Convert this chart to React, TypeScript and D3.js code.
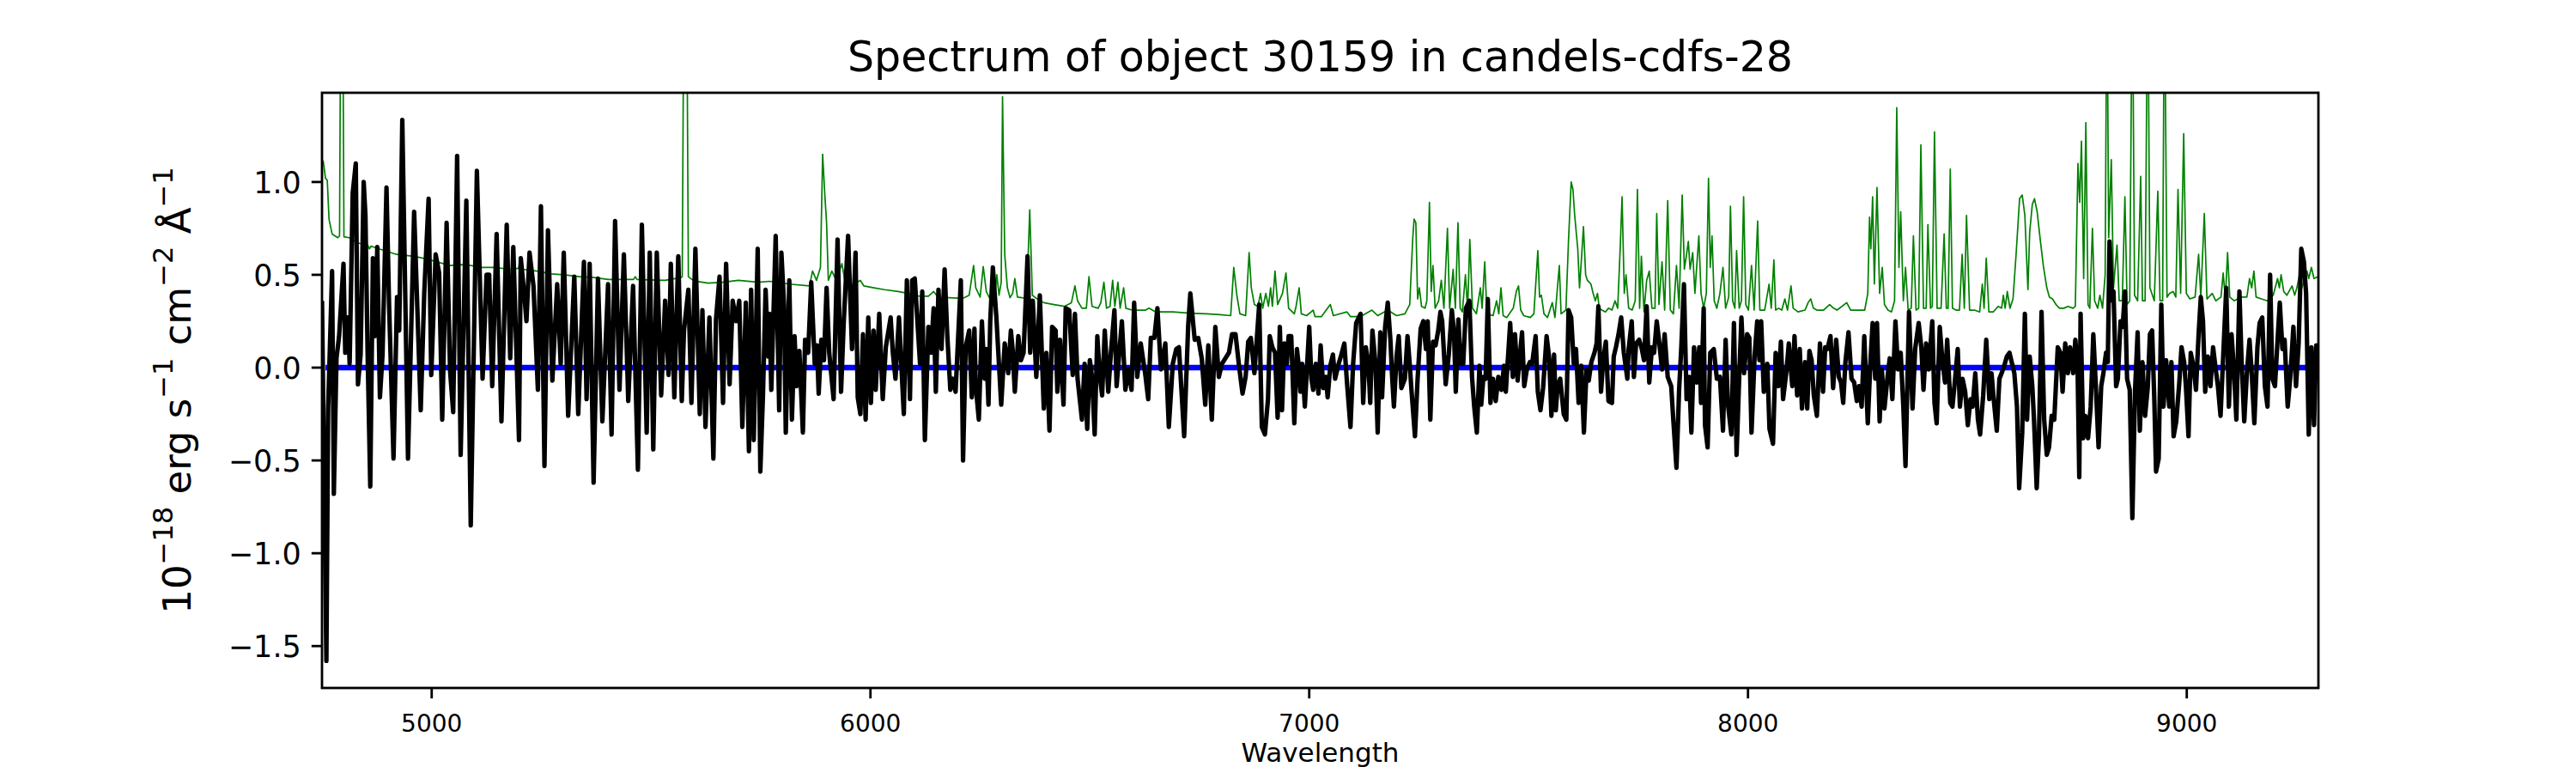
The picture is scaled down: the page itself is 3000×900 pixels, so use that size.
import * as d3 from "d3";

type Pt = [number, number];

// axis ticks
const xTicks = [5000, 6000, 7000, 8000, 9000];
const yTicks = [-1.5, -1.0, -0.5, 0.0, 0.5, 1.0];

// extracted object flux [wavelength, 1e-18 erg/s/cm2/A]
const objectFlux: Pt[] = [
  [4750,0.36],[4760,-1.58],[4764,-0.22],[4773,0.52],[4777,-0.68],[4783,0.05],[4789,0.17],[4799,0.56],[4803,0.08],[4809,0.27],
  [4813,0.02],[4820,0.94],[4827,1.10],[4832,-0.09],[4838,0.07],[4845,1.0],[4849,0.82],[4854,0.07],[4860,-0.64],[4866,0.59],
  [4871,0.17],[4876,0.65],[4882,-0.16],[4888,0.07],[4897,0.97],[4903,0.33],[4913,-0.49],[4921,0.38],[4926,0.2],[4933,1.335],
  [4946,-0.49],[4960,0.84],[4975,-0.23],[4983,0.4],[4993,0.91],[4999,-0.04],[5009,0.61],[5017,0.51],[5024,-0.28],[5034,0.78],
  [5042,-0.02],[5049,-0.24],[5058,1.14],[5066,-0.47],[5079,0.9],[5089,-0.85],[5103,1.06],[5116,-0.06],[5125,0.5],[5131,0.5],
  [5138,-0.1],[5148,0.72],[5159,-0.29],[5171,0.77],[5179,0.05],[5186,0.65],[5199,-0.39],[5203,0.59],[5210,0.42],[5216,0.25],
  [5223,0.62],[5232,0.44],[5242,-0.12],[5249,0.87],[5257,-0.53],[5265,0.74],[5275,-0.07],[5286,0.45],[5294,0.02],[5301,0.62],
  [5311,-0.26],[5325,0.49],[5334,-0.25],[5347,0.57],[5353,-0.17],[5360,0.56],[5369,-0.62],[5379,0.48],[5389,-0.29],[5402,0.45],
  [5410,-0.36],[5418,0.79],[5428,-0.12],[5438,0.61],[5448,-0.18],[5459,0.44],[5470,-0.55],[5479,0.77],[5490,-0.35],[5497,0.62],
  [5505,-0.44],[5513,0.62],[5523,-0.15],[5532,0.36],[5540,-0.04],[5545,0.56],[5553,-0.16],[5562,0.6],[5570,-0.18],[5575,0.2],
  [5585,0.42],[5592,-0.19],[5601,0.64],[5611,-0.25],[5617,0.31],[5624,-0.32],[5633,0.27],[5642,-0.49],[5648,0.26],[5656,0.49],
  [5664,-0.19],[5671,0.56],[5679,-0.09],[5686,0.36],[5694,0.25],[5701,0.36],[5708,-0.32],[5716,0.35],[5723,-0.45],[5728,0.42],
  [5734,-0.39],[5743,0.64],[5749,-0.56],[5755,-0.15],[5761,0.42],[5767,0.06],[5770,0.29],[5774,-0.12],[5784,0.71],[5792,-0.23],
  [5797,0.62],[5803,0.34],[5807,-0.35],[5815,0.47],[5821,-0.28],[5827,0.17],[5832,-0.1],[5838,0.09],[5846,-0.35],[5851,0.15],
  [5858,0.08],[5865,0.46],[5873,0.02],[5878,0.12],[5882,-0.14],[5888,0.15],[5894,0.04],[5900,0.43],[5906,0.08],[5916,-0.17],
  [5925,0.69],[5933,-0.13],[5939,0.24],[5949,0.71],[5958,0.1],[5966,0.62],[5971,-0.16],[5977,-0.25],[5983,0.18],[5989,-0.28],
  [5995,0.27],[6001,-0.19],[6007,0.2],[6012,-0.12],[6020,0.29],[6028,-0.17],[6035,0.11],[6046,0.27],[6051,0.08],[6057,-0.06],
  [6065,0.27],[6076,-0.25],[6083,0.47],[6090,-0.17],[6095,0.47],[6101,0.48],[6107,0.25],[6113,0.02],[6118,0.41],[6124,-0.39],
  [6132,0.22],[6138,0.08],[6144,0.32],[6149,-0.13],[6155,0.42],[6162,0.1],[6169,0.53],[6175,0.18],[6182,-0.12],[6188,-0.06],
  [6194,-0.13],[6206,0.47],[6211,-0.5],[6217,0.11],[6225,0.2],[6231,-0.16],[6237,0.21],[6240,-0.1],[6247,-0.28],[6254,0.25],
  [6260,-0.06],[6264,0.1],[6269,-0.2],[6273,0.25],[6279,0.54],[6287,0.27],[6298,-0.2],[6306,0.13],[6314,-0.03],[6320,0.2],
  [6324,0.1],[6329,-0.13],[6337,0.17],[6343,0.04],[6349,0.08],[6358,0.6],[6364,0.08],[6370,0.36],[6378,-0.05],[6386,0.39],
  [6395,-0.22],[6401,0.08],[6408,-0.34],[6414,0.22],[6422,0.2],[6426,-0.13],[6432,0.15],[6440,-0.2],[6445,0.32],[6453,0.31],
  [6461,-0.04],[6466,0.29],[6472,-0.06],[6482,-0.28],[6488,0.02],[6494,-0.33],[6500,0.04],[6505,-0.05],[6511,-0.36],[6517,0.17],
  [6523,-0.05],[6528,-0.15],[6534,0.2],[6542,-0.13],[6548,0.08],[6556,0.31],[6561,-0.1],[6573,0.25],[6581,-0.12],[6588,-0.01],
  [6595,-0.12],[6601,0.35],[6608,-0.05],[6616,0.13],[6626,-0.03],[6633,-0.17],[6639,0.16],[6647,0.16],[6654,0.32],[6662,-0.01],
  [6672,0.13],[6680,-0.32],[6689,0.02],[6697,0.1],[6703,0.11],[6715,-0.37],[6724,0.22],[6729,0.4],[6739,0.15],[6747,0.16],
  [6755,0.05],[6763,-0.2],[6770,0.12],[6778,-0.28],[6786,0.22],[6794,-0.05],[6801,0.02],[6809,0.05],[6817,0.08],[6824,0.18],
  [6832,0.18],[6840,0.01],[6848,-0.14],[6855,-0.05],[6861,0.14],[6867,0.16],[6875,-0.03],[6881,0.17],[6886,0.34],[6892,-0.32],
  [6899,-0.36],[6906,-0.17],[6910,0.17],[6916,0.11],[6922,0.08],[6928,-0.27],[6933,0.22],[6938,-0.23],[6943,0.13],[6949,0.02],
  [6953,0.17],[6959,0.17],[6966,-0.30],[6972,0.10],[6977,-0.01],[6980,-0.13],[6984,0.02],[6990,-0.21],[7000,0.22],[7005,-0.06],
  [7009,-0.12],[7015,0.02],[7021,-0.14],[7026,0.12],[7032,-0.11],[7038,-0.05],[7042,-0.16],[7048,0.01],[7054,0.07],[7059,-0.06],
  [7067,0.02],[7072,0.06],[7080,0.13],[7086,-0.08],[7094,-0.32],[7100,0.02],[7107,0.24],[7113,0.27],[7117,0.29],[7123,-0.19],
  [7129,0.11],[7135,0.02],[7139,-0.19],[7144,0.20],[7151,0.02],[7156,-0.35],[7162,0.19],[7166,-0.16],[7173,0.22],[7179,0.35],
  [7185,0.15],[7189,-0.05],[7193,-0.21],[7199,0.06],[7204,0.17],[7210,-0.11],[7218,-0.06],[7224,0.17],[7229,0.02],[7233,-0.12],
  [7241,-0.37],[7247,-0.06],[7254,0.21],[7260,0.25],[7266,0.10],[7270,0.25],[7276,-0.28],[7282,0.14],[7288,0.12],[7294,0.20],
  [7299,0.30],[7303,0.25],[7311,-0.09],[7318,0.07],[7325,0.31],[7330,0.19],[7334,-0.13],[7340,0.26],[7345,0.02],[7351,0.02],
  [7357,0.32],[7365,0.36],[7371,-0.05],[7376,-0.21],[7382,-0.35],[7388,0.01],[7392,-0.20],[7397,-0.05],[7402,-0.06],[7407,0.37],
  [7413,-0.19],[7419,-0.06],[7425,-0.18],[7431,-0.05],[7438,-0.12],[7444,0.01],[7448,-0.13],[7458,0.24],[7464,-0.05],[7469,0.18],
  [7475,-0.07],[7479,0.04],[7485,0.19],[7490,-0.10],[7496,-0.01],[7503,0.03],[7508,0.02],[7516,0.17],[7521,-0.13],[7527,-0.23],
  [7533,-0.11],[7541,0.17],[7547,0.05],[7552,-0.26],[7558,0.07],[7562,-0.23],[7566,-0.10],[7572,-0.06],[7580,-0.25],[7586,-0.28],
  [7591,0.31],[7597,0.27],[7603,0.02],[7608,0.10],[7614,-0.19],[7620,0.01],[7626,-0.35],[7632,-0.01],[7637,-0.07],[7643,0.03],
  [7650,0.08],[7655,0.13],[7659,0.33],[7665,-0.13],[7670,0.04],[7676,0.14],[7682,-0.18],[7690,-0.19],[7694,0.06],[7699,0.11],
  [7705,0.18],[7711,0.27],[7717,0.08],[7725,-0.06],[7728,0.10],[7735,0.25],[7740,-0.05],[7745,0.13],[7752,0.15],[7758,0.10],
  [7763,0.04],[7769,0.33],[7775,-0.08],[7781,0.11],[7786,0.08],[7792,0.25],[7798,0.13],[7804,-0.01],[7810,0.18],[7817,-0.05],
  [7825,-0.10],[7830,-0.29],[7837,-0.54],[7843,-0.12],[7848,0.11],[7854,0.45],[7860,-0.17],[7866,-0.05],[7871,-0.35],[7877,0.11],
  [7883,-0.08],[7889,0.11],[7893,-0.19],[7899,0.32],[7902,-0.31],[7908,-0.43],[7914,0.08],[7922,0.10],[7929,-0.06],[7936,-0.05],
  [7943,-0.34],[7949,0.15],[7954,-0.19],[7962,-0.36],[7968,0.24],[7974,-0.47],[7980,-0.05],[7985,0.27],[7991,-0.03],[7998,0.18],
  [8003,0.16],[8008,-0.35],[8015,0.06],[8021,0.25],[8026,0.04],[8030,0.25],[8036,-0.13],[8044,0.02],[8049,-0.33],[8057,-0.41],
  [8063,0.08],[8069,-0.10],[8075,0.14],[8080,-0.17],[8088,-0.01],[8093,0.13],[8101,-0.10],[8106,0.17],[8112,-0.15],[8118,0.10],
  [8123,-0.22],[8130,0.03],[8135,-0.22],[8140,0.09],[8145,0.04],[8150,-0.15],[8157,-0.26],[8164,0.13],[8171,-0.13],[8176,0.11],
  [8181,0.10],[8188,0.17],[8194,-0.11],[8201,0.15],[8207,-0.05],[8212,-0.08],[8217,-0.19],[8222,0.03],[8229,0.19],[8236,-0.06],
  [8242,-0.08],[8248,-0.18],[8253,-0.10],[8259,-0.21],[8265,0.17],[8273,-0.30],[8279,0.03],[8284,0.24],[8290,-0.06],[8294,0.24],
  [8300,-0.29],[8305,-0.01],[8311,-0.22],[8318,-0.05],[8323,0.05],[8329,-0.17],[8336,0.25],[8342,-0.01],[8348,0.08],[8354,-0.21],
  [8359,-0.53],[8367,0.30],[8375,-0.22],[8381,0.10],[8389,0.24],[8395,0.11],[8400,-0.12],[8406,0.13],[8412,-0.01],[8420,0.25],
  [8425,-0.19],[8430,-0.30],[8437,0.22],[8443,0.04],[8449,-0.08],[8454,0.15],[8461,-0.19],[8466,-0.21],[8472,-0.06],[8478,0.10],
  [8483,-0.21],[8489,-0.06],[8495,-0.13],[8501,-0.31],[8507,-0.17],[8512,-0.21],[8518,-0.03],[8524,-0.28],[8529,-0.36],[8536,-0.15],
  [8543,0.15],[8550,-0.17],[8555,-0.03],[8560,-0.17],[8567,-0.34],[8573,-0.06],[8578,-0.03],[8584,0.01],[8590,0.06],[8596,0.08],
  [8601,0.03],[8607,-0.03],[8613,-0.21],[8618,-0.65],[8625,-0.35],[8631,0.29],[8636,-0.28],[8642,0.06],[8648,-0.10],[8652,-0.29],
  [8658,-0.65],[8663,-0.38],[8669,0.30],[8675,-0.28],[8681,-0.47],[8686,-0.43],[8692,-0.26],[8698,-0.28],[8706,0.11],[8712,0.08],
  [8717,-0.13],[8723,0.13],[8729,-0.03],[8734,0.11],[8741,-0.03],[8746,0.15],[8751,0.02],[8755,-0.59],[8758,0.29],[8764,-0.38],
  [8769,-0.26],[8775,-0.38],[8781,-0.21],[8787,0.18],[8792,-0.06],[8799,-0.43],[8805,-0.10],[8810,-0.03],[8816,0.08],[8820,0.03],
  [8824,0.68],[8830,0.36],[8833,0.41],[8839,-0.10],[8843,-0.06],[8849,0.25],[8854,0.22],[8859,0.41],[8864,-0.06],[8870,-0.12],
  [8876,-0.81],[8882,-0.13],[8888,0.19],[8893,-0.34],[8899,0.03],[8905,-0.26],[8911,-0.11],[8916,0.18],[8921,0.20],[8926,-0.17],
  [8930,-0.56],[8936,-0.49],[8942,0.34],[8947,-0.21],[8953,0.04],[8960,-0.21],[8965,0.03],[8970,-0.37],[8976,-0.29],[8983,-0.08],
  [8988,0.11],[8994,0.03],[8998,-0.10],[9004,-0.37],[9009,0.08],[9015,0.01],[9021,-0.12],[9027,0.18],[9032,0.38],[9037,0.25],
  [9042,-0.13],[9048,0.06],[9054,-0.10],[9060,0.11],[9065,0.01],[9071,-0.10],[9077,-0.26],[9083,0.06],[9090,0.43],[9096,-0.21],
  [9102,0.18],[9108,-0.03],[9113,-0.28],[9120,0.41],[9125,0.03],[9131,-0.29],[9137,-0.03],[9143,0.15],[9148,-0.03],[9154,-0.30],
  [9161,0.11],[9166,0.24],[9172,0.27],[9178,-0.10],[9184,-0.21],[9190,0.50],[9195,-0.06],[9201,-0.10],[9207,0.15],[9212,0.35],
  [9218,0.10],[9223,0.15],[9230,-0.21],[9236,-0.05],[9243,0.22],[9249,-0.10],[9255,0.13],[9261,0.64],[9267,0.57],[9272,0.40],
  [9278,-0.36],[9284,0.11],[9290,-0.31],[9295,0.12],[9300,0.10],
];

// sky / noise spectrum (green)
const skyFlux: Pt[] = [
  [4750,1.12],[4753,1.11],[4758,1.02],[4762,1.01],[4766,0.80],[4773,0.72],[4786,0.70],[4790,0.71],[4793,2.2],[4797,2.2],
  [4800,0.705],[4812,0.70],[4820,0.69],[4825,0.68],[4835,0.67],[4854,0.66],[4858,0.64],[4862,0.655],[4867,0.65],[4880,0.64],
  [4900,0.625],[4920,0.61],[4959,0.60],[4990,0.585],[5011,0.57],[5043,0.55],[5070,0.555],[5089,0.55],[5115,0.54],[5141,0.54],
  [5180,0.53],[5198,0.535],[5202,0.59],[5206,0.53],[5240,0.52],[5272,0.505],[5300,0.50],[5337,0.49],[5370,0.485],[5402,0.475],
  [5460,0.475],[5464,0.49],[5468,0.475],[5532,0.47],[5568,0.485],[5571,0.49],[5575,2.2],[5581,2.2],[5585,0.49],[5598,0.467],
  [5630,0.455],[5663,0.46],[5699,0.47],[5745,0.46],[5770,0.465],[5815,0.45],[5861,0.44],[5868,0.52],[5877,0.47],[5886,0.54],
  [5891,1.15],[5896,0.93],[5900,0.78],[5904,0.47],[5912,0.52],[5922,0.47],[5935,0.56],[5943,0.45],[5954,0.44],[5977,0.47],
  [5985,0.44],[6008,0.43],[6032,0.42],[6063,0.41],[6086,0.40],[6109,0.386],[6132,0.385],[6144,0.41],[6155,0.377],[6179,0.377],
  [6210,0.373],[6225,0.39],[6235,0.55],[6240,0.43],[6250,0.38],[6257,0.545],[6264,0.41],[6271,0.377],[6283,0.377],[6288,0.5],
  [6293,0.39],[6298,0.46],[6301,1.46],[6306,0.61],[6312,0.43],[6318,0.377],[6324,0.40],[6329,0.48],[6335,0.38],[6345,0.377],
  [6356,0.37],[6363,0.85],[6369,0.39],[6380,0.37],[6395,0.35],[6418,0.34],[6442,0.33],[6458,0.35],[6466,0.44],[6472,0.36],
  [6482,0.32],[6492,0.32],[6498,0.49],[6505,0.33],[6519,0.32],[6525,0.35],[6532,0.46],[6538,0.32],[6546,0.33],[6552,0.47],
  [6557,0.33],[6564,0.46],[6569,0.32],[6577,0.43],[6582,0.32],[6596,0.31],[6627,0.31],[6635,0.32],[6650,0.30],[6689,0.30],
  [6728,0.293],[6766,0.29],[6797,0.285],[6821,0.28],[6828,0.54],[6835,0.39],[6842,0.29],[6855,0.28],[6863,0.62],[6868,0.43],
  [6875,0.34],[6883,0.33],[6889,0.40],[6894,0.32],[6901,0.40],[6907,0.33],[6912,0.43],[6916,0.33],[6922,0.52],[6928,0.34],
  [6939,0.40],[6947,0.51],[6953,0.32],[6966,0.29],[6970,0.33],[6977,0.43],[6982,0.29],[6994,0.28],[7009,0.31],[7013,0.275],
  [7028,0.275],[7048,0.34],[7055,0.28],[7086,0.30],[7094,0.275],[7117,0.275],[7143,0.31],[7156,0.28],[7179,0.31],[7199,0.28],
  [7218,0.29],[7229,0.34],[7236,0.70],[7239,0.80],[7243,0.78],[7247,0.37],[7251,0.43],[7256,0.33],[7264,0.32],[7268,0.36],
  [7274,0.89],[7278,0.41],[7282,0.55],[7287,0.32],[7295,0.36],[7301,0.47],[7307,0.32],[7315,0.75],[7320,0.32],[7328,0.53],
  [7333,0.32],[7339,0.78],[7344,0.32],[7349,0.30],[7356,0.50],[7361,0.31],[7366,0.69],[7372,0.32],[7381,0.29],[7390,0.43],
  [7394,0.32],[7400,0.57],[7405,0.29],[7419,0.28],[7427,0.36],[7432,0.29],[7437,0.43],[7442,0.28],[7450,0.27],[7465,0.32],
  [7472,0.41],[7477,0.44],[7482,0.31],[7489,0.28],[7504,0.27],[7512,0.29],[7521,0.63],[7525,0.38],[7529,0.39],[7535,0.29],
  [7543,0.27],[7554,0.35],[7560,0.27],[7570,0.55],[7574,0.29],[7585,0.31],[7591,0.69],[7597,1.0],[7601,0.96],[7605,0.82],
  [7612,0.64],[7616,0.43],[7620,0.57],[7625,0.76],[7630,0.50],[7634,0.47],[7642,0.45],[7647,0.40],[7652,0.36],[7657,0.40],
  [7661,0.32],[7667,0.31],[7675,0.30],[7682,0.32],[7690,0.31],[7697,0.36],[7703,0.32],[7709,0.66],[7713,0.92],[7718,0.40],
  [7722,0.50],[7728,0.32],[7736,0.31],[7743,0.36],[7748,0.96],[7753,0.32],[7757,0.60],[7763,0.30],[7769,0.47],[7775,0.52],
  [7781,0.32],[7788,0.32],[7792,0.83],[7797,0.34],[7804,0.57],[7810,0.31],[7817,0.90],[7823,0.31],[7830,0.29],[7837,0.55],
  [7843,0.32],[7850,0.93],[7855,0.53],[7860,0.61],[7864,0.68],[7868,0.53],[7874,0.62],[7879,0.40],[7883,0.54],[7888,0.71],
  [7893,0.40],[7899,0.32],[7905,0.40],[7910,1.02],[7914,0.54],[7918,0.71],[7923,0.36],[7929,0.32],[7936,0.40],[7943,0.54],
  [7949,0.32],[7956,0.38],[7960,0.87],[7965,0.36],[7970,0.32],[7974,0.63],[7980,0.32],[7985,0.36],[7990,0.92],[7995,0.34],
  [8001,0.31],[8008,0.55],[8014,0.31],[8022,0.79],[8027,0.31],[8038,0.31],[8048,0.45],[8053,0.32],[8059,0.58],[8063,0.31],
  [8070,0.32],[8077,0.31],[8084,0.37],[8090,0.31],[8098,0.44],[8103,0.32],[8114,0.30],[8130,0.31],[8137,0.35],[8143,0.37],
  [8149,0.32],[8157,0.31],[8172,0.31],[8186,0.34],[8195,0.32],[8203,0.31],[8225,0.35],[8234,0.31],[8249,0.31],[8266,0.31],
  [8273,0.40],[8277,0.81],[8280,0.64],[8284,0.92],[8288,0.45],[8294,0.97],[8300,0.40],[8306,0.54],[8311,0.34],[8319,0.31],
  [8327,0.30],[8334,0.36],[8339,1.40],[8344,0.54],[8348,0.84],[8354,0.36],[8359,0.54],[8365,0.31],[8372,0.32],[8377,0.71],
  [8383,0.31],[8389,0.32],[8394,1.20],[8400,0.32],[8406,0.32],[8410,0.77],[8416,0.32],[8420,0.33],[8425,1.27],[8431,0.32],
  [8440,0.32],[8447,0.72],[8452,0.32],[8456,0.32],[8461,1.07],[8466,0.32],[8474,0.31],[8482,0.31],[8488,0.61],[8493,0.32],
  [8498,0.82],[8505,0.31],[8516,0.31],[8528,0.30],[8534,0.45],[8538,0.32],[8543,0.59],[8549,0.30],[8559,0.30],[8570,0.33],
  [8578,0.32],[8582,0.39],[8586,0.32],[8591,0.41],[8597,0.32],[8604,0.37],[8611,0.61],[8619,0.91],[8625,0.93],[8631,0.82],
  [8638,0.42],[8642,0.73],[8648,0.88],[8653,0.91],[8659,0.84],[8666,0.69],[8673,0.55],[8681,0.43],[8687,0.38],[8694,0.37],
  [8702,0.34],[8710,0.32],[8720,0.32],[8729,0.33],[8741,0.32],[8746,0.33],[8752,1.10],[8756,0.89],[8760,1.22],[8765,0.48],
  [8770,1.32],[8775,0.34],[8779,0.32],[8785,0.75],[8790,0.36],[8797,0.32],[8802,0.39],[8808,0.32],[8814,0.50],[8818,2.2],
  [8822,0.70],[8828,1.12],[8833,0.43],[8841,0.66],[8846,0.36],[8853,0.36],[8859,0.92],[8864,0.34],[8870,0.36],[8876,2.2],
  [8881,0.39],[8888,0.36],[8895,1.03],[8899,0.36],[8905,0.36],[8911,2.2],[8916,0.43],[8926,0.36],[8934,0.95],[8939,0.36],
  [8945,0.36],[8949,2.2],[8955,0.38],[8961,0.40],[8969,0.41],[8975,0.38],[8980,0.96],[8986,0.40],[8993,1.26],[8999,0.40],
  [9007,0.37],[9019,0.38],[9027,0.61],[9032,0.38],[9040,0.83],[9046,0.37],[9058,0.40],[9066,0.36],[9078,0.38],[9083,0.51],
  [9088,0.37],[9093,0.62],[9098,0.38],[9108,0.36],[9124,0.38],[9137,0.38],[9143,0.48],[9148,0.43],[9153,0.52],[9158,0.38],
  [9170,0.37],[9184,0.36],[9197,0.39],[9207,0.48],[9211,0.43],[9215,0.50],[9221,0.41],[9228,0.39],[9240,0.44],[9246,0.39],
  [9251,0.43],[9256,0.49],[9262,0.43],[9268,0.47],[9274,0.52],[9278,0.48],[9284,0.54],[9290,0.48],[9300,0.49],
];

// fitted model (flat at zero)
const modelFlux: Pt[] = [[4758, 0], [9292, 0]];

const width = 3000;
const height = 900;
const margin = { top: 108, right: 300, bottom: 99, left: 375 };
const font = "DejaVu Sans";

export default function App() {
  const x = d3
    .scaleLinear()
    .domain(d3.extent(objectFlux, (d) => d[0]) as [number, number])
    .range([margin.left, width - margin.right]);

  // matplotlib-style autoscale: data range plus 5% each side
  const [lo, hi] = d3.extent(objectFlux, (d) => d[1]) as [number, number];
  const pad = (hi - lo) * 0.05;
  const y = d3
    .scaleLinear()
    .domain([lo - pad, hi + pad])
    .range([height - margin.bottom, margin.top]);

  const line = d3
    .line<Pt>()
    .x((d) => x(d[0]))
    .y((d) => y(d[1]));

  const fmtY = d3.format(".1f");
  const plotW = width - margin.left - margin.right;
  const plotH = height - margin.top - margin.bottom;
  const tickLen = 12.2;
  const sup = 32;
  const rise = 21;

  return (
    <svg
      width={width}
      height={height}
      style={{ position: "absolute", left: 0, top: 0, background: "white" }}
      fontFamily={font}
    >
      <defs>
        <clipPath id="plot-area">
          <rect x={margin.left} y={margin.top} width={plotW} height={plotH} />
        </clipPath>
      </defs>

      <g clipPath="url(#plot-area)" fill="none" strokeLinejoin="round">
        <path d={line(skyFlux) ?? ""} stroke="#008000" strokeWidth={1.7} />
        <path d={line(modelFlux) ?? ""} stroke="#0000ff" strokeWidth={6.5} />
        <path d={line(objectFlux) ?? ""} stroke="#000" strokeWidth={5.2} />
      </g>

      <rect
        x={margin.left}
        y={margin.top}
        width={plotW}
        height={plotH}
        fill="none"
        stroke="#000"
        strokeWidth={2.8}
      />

      {/* x axis */}
      {xTicks.map((t) => (
        <g key={"x" + t}>
          <line
            x1={x(t)}
            x2={x(t)}
            y1={height - margin.bottom}
            y2={height - margin.bottom + tickLen}
            stroke="#000"
            strokeWidth={2.8}
          />
          <text x={x(t)} y={852} fontSize={28} textAnchor="middle">
            {t}
          </text>
        </g>
      ))}

      {/* y axis */}
      {yTicks.map((t) => (
        <g key={"y" + t}>
          <line
            x1={margin.left - tickLen}
            x2={margin.left}
            y1={y(t)}
            y2={y(t)}
            stroke="#000"
            strokeWidth={2.8}
          />
          <text
            x={margin.left - tickLen - 12}
            y={y(t)}
            dy="0.36em"
            fontSize={35}
            textAnchor="end"
          >
            {fmtY(t)}
          </text>
        </g>
      ))}

      <text x={margin.left + plotW / 2} y={887} fontSize={31} textAnchor="middle">
        Wavelength
      </text>

      <text
        transform={`translate(222,${margin.top + plotH / 2}) rotate(-90)`}
        fontSize={45}
        textAnchor="middle"
      >
        10
        <tspan dy={-rise} fontSize={sup}>−18</tspan>
        <tspan dy={rise}> erg s</tspan>
        <tspan dy={-rise} fontSize={sup}>−1</tspan>
        <tspan dy={rise}> cm</tspan>
        <tspan dy={-rise} fontSize={sup}>−2</tspan>
        <tspan dy={rise}> Å</tspan>
        <tspan dy={-rise} fontSize={sup}>−1</tspan>
      </text>

      <text x={margin.left + plotW / 2} y={83} fontSize={49} textAnchor="middle">
        Spectrum of object 30159 in candels-cdfs-28
      </text>
    </svg>
  );
}
